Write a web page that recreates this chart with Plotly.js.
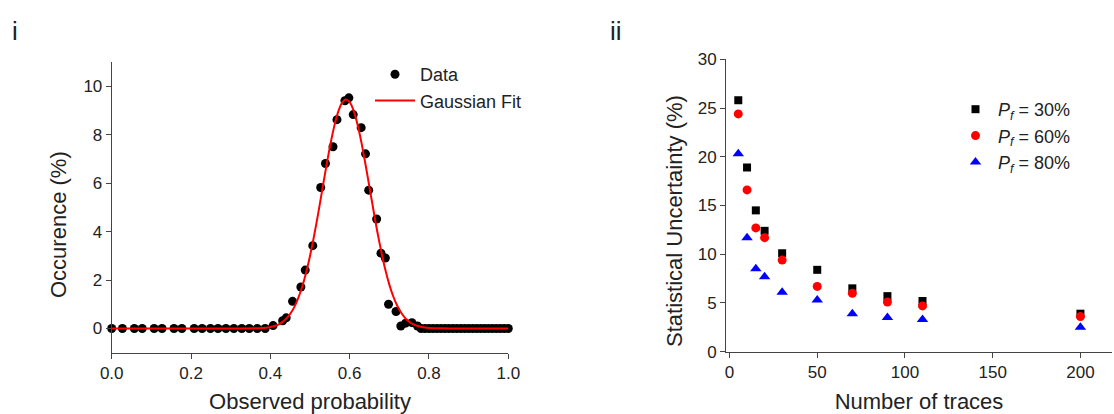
<!DOCTYPE html>
<html><head><meta charset="utf-8">
<script src="https://cdn.plot.ly/plotly-3.0.1.min.js"></script>
<style>html,body{margin:0;padding:0;background:#fff;} #chart{width:1114px;height:414px;}</style>
</head><body><div id="chart"></div>
<script>
// ---- Panel i: observed probability histogram ----
const probX = [0, 0.027, 0.057, 0.077, 0.107, 0.127, 0.157, 0.177, 0.208, 0.228, 0.249, 0.268, 0.288, 0.308, 0.328, 0.347, 0.367, 0.387,
  0.407, 0.431, 0.440, 0.456, 0.477, 0.488, 0.507, 0.527, 0.539, 0.558, 0.568, 0.588, 0.598, 0.609, 0.629, 0.640, 0.648,
  0.668, 0.679, 0.690, 0.698, 0.717, 0.729, 0.741, 0.757, 0.771,
  0.78, 0.79, 0.80, 0.81, 0.82, 0.83, 0.84, 0.85, 0.86, 0.87, 0.88, 0.89, 0.90, 0.91, 0.92, 0.93, 0.94, 0.95, 0.96, 0.97, 0.98, 0.99, 1.00];
const occurence = [0, 0, 0, 0, 0, 0, 0, 0, 0, 0, 0, 0, 0, 0, 0, 0, 0, 0,
  0.12, 0.32, 0.44, 1.12, 1.71, 2.41, 3.42, 5.82, 6.81, 7.50, 8.62, 9.40, 9.52, 8.83, 8.29, 7.21, 5.71,
  4.52, 3.11, 2.91, 1.00, 0.70, 0.10, 0.22, 0.24, 0.10,
  0, 0, 0, 0, 0, 0, 0, 0, 0, 0, 0, 0, 0, 0, 0, 0, 0, 0, 0, 0, 0, 0, 0];
const fitX = [0, 0.30, 0.36, 0.38, 0.39, 0.40, 0.41, 0.42, 0.43, 0.44, 0.45, 0.46, 0.47, 0.48, 0.49, 0.50, 0.51, 0.52, 0.53, 0.54,
  0.55, 0.56, 0.57, 0.58, 0.59, 0.60, 0.61, 0.62, 0.63, 0.64, 0.65, 0.66, 0.67, 0.68, 0.69, 0.70, 0.71, 0.72, 0.73, 0.74,
  0.75, 0.76, 0.77, 0.78, 0.79, 0.80, 0.82, 0.85, 0.90, 1.00];
const fitY = [0, 0, 0.01, 0.02, 0.03, 0.06, 0.10, 0.16, 0.26, 0.40, 0.60, 0.87, 1.24, 1.71, 2.29, 2.99, 3.80, 4.69, 5.64, 6.59,
  7.48, 8.27, 8.89, 9.29, 9.45, 9.34, 8.99, 8.41, 7.65, 6.77, 5.83, 4.88, 3.97, 3.15, 2.42, 1.81, 1.32, 0.94, 0.65, 0.43,
  0.28, 0.18, 0.11, 0.07, 0.04, 0.02, 0.01, 0, 0, 0];
const xTicksI = [0, 0.2, 0.4, 0.6, 0.8, 1.0];
const yTicksI = [0, 2, 4, 6, 8, 10];

// ---- Panel ii: statistical uncertainty ----
const numTraces = [5, 10, 15, 20, 30, 50, 70, 90, 110, 200];
const pf30 = [25.8, 18.9, 14.5, 12.4, 10.1, 8.4, 6.5, 5.7, 5.2, 3.9];
const pf60 = [24.4, 16.6, 12.7, 11.7, 9.4, 6.7, 6.0, 5.1, 4.7, 3.6];
const pf80 = [20.3, 11.7, 8.5, 7.7, 6.1, 5.3, 3.9, 3.5, 3.3, 2.5];
const seriesNames = ['<i>P</i><sub><i>f</i></sub> = 30%', '<i>P</i><sub><i>f</i></sub> = 60%', '<i>P</i><sub><i>f</i></sub> = 80%'];
const xTicksII = [0, 50, 100, 150, 200];
const yTicksII = [0, 5, 10, 15, 20, 25, 30];

const FONT = 'Liberation Sans, Arial, sans-serif';
const W = 1114, H = 414;
const px = v => v / W, py = v => 1 - v / H;

const traces = [
  {x: probX, y: occurence, type: 'scatter', mode: 'markers', name: 'Data', xaxis: 'x', yaxis: 'y',
   marker: {color: '#000', size: 9}, cliponaxis: false, legend: 'legend'},
  {x: fitX, y: fitY, type: 'scatter', mode: 'lines', name: 'Gaussian Fit', xaxis: 'x', yaxis: 'y',
   line: {color: '#ff0000', width: 2, shape: 'spline', smoothing: 0.6}, legend: 'legend'},
  {x: numTraces, y: pf30, type: 'scatter', mode: 'markers', name: seriesNames[0], xaxis: 'x2', yaxis: 'y2',
   marker: {color: '#000', size: 8, symbol: 'square'}, cliponaxis: false, legend: 'legend2'},
  {x: numTraces, y: pf60, type: 'scatter', mode: 'markers', name: seriesNames[1], xaxis: 'x2', yaxis: 'y2',
   marker: {color: '#ff0000', size: 9, symbol: 'circle'}, cliponaxis: false, legend: 'legend2'},
  {x: numTraces, y: pf80, type: 'scatter', mode: 'markers', name: seriesNames[2], xaxis: 'x2', yaxis: 'y2',
   marker: {color: '#0000ff', size: 10, symbol: 'triangle-up'}, cliponaxis: false, legend: 'legend2'}
];

const axisStyle = {
  showline: true, linecolor: '#444', linewidth: 1, ticks: 'outside', ticklen: 5, tickwidth: 1, tickcolor: '#444',
  showgrid: false, zeroline: false, tickfont: {family: FONT, size: 17, color: '#222'}, fixedrange: true
};

const layout = {
  width: W, height: H, autosize: false,
  margin: {l: 0, r: 0, t: 0, b: 0},
  paper_bgcolor: '#fff', plot_bgcolor: '#fff',
  font: {family: FONT, color: '#222'},
  xaxis: Object.assign({}, axisStyle, {domain: [px(111.7), px(508.3)], range: [0, 1], anchor: 'y',
    tickmode: 'array', tickvals: xTicksI, ticktext: xTicksI.map(v => v.toFixed(1)),
    title: {text: 'Observed probability', font: {family: FONT, size: 22, color: '#222'}, standoff: 12}}),
  yaxis: Object.assign({}, axisStyle, {domain: [py(352.7), py(62)], range: [-1, 11], anchor: 'x',
    tickmode: 'array', tickvals: yTicksI}),
  xaxis2: Object.assign({}, axisStyle, {domain: [px(726), px(1112)], range: [-2, 218], anchor: 'y2',
    tickmode: 'array', tickvals: xTicksII,
    title: {text: 'Number of traces', font: {family: FONT, size: 22, color: '#222'}, standoff: 12}}),
  yaxis2: Object.assign({}, axisStyle, {domain: [py(351.7), py(59.3)], range: [0, 30], anchor: 'x2',
    tickmode: 'array', tickvals: yTicksII}),
  showlegend: true,
  legend: {x: px(370), xanchor: 'left', y: py(56), yanchor: 'top', bgcolor: 'rgba(0,0,0,0)', itemwidth: 40,
    font: {family: FONT, size: 18, color: '#222'}, tracegroupgap: 0},
  legend2: {x: px(953), xanchor: 'left', y: py(91), yanchor: 'top', bgcolor: 'rgba(0,0,0,0)', itemwidth: 35,
    font: {family: FONT, size: 18, color: '#222'}, tracegroupgap: 0},
  annotations: [
    {text: 'i', xref: 'paper', yref: 'paper', x: px(15), y: py(31), xanchor: 'center', yanchor: 'middle', showarrow: false,
     font: {family: FONT, size: 26, color: '#222'}},
    {text: 'ii', xref: 'paper', yref: 'paper', x: px(616), y: py(31), xanchor: 'center', yanchor: 'middle', showarrow: false,
     font: {family: FONT, size: 26, color: '#222'}},
    {text: 'Occurence (%)', xref: 'paper', yref: 'paper', x: px(58), y: py(225), xanchor: 'center', yanchor: 'middle',
     textangle: -90, showarrow: false, font: {family: FONT, size: 22, color: '#222'}},
    {text: 'Statistical Uncertainty (%)', xref: 'paper', yref: 'paper', x: px(674), y: py(221), xanchor: 'center', yanchor: 'middle',
     textangle: -90, showarrow: false, font: {family: FONT, size: 22, color: '#222'}}
  ]
};

Plotly.newPlot('chart', traces, layout, {displayModeBar: false, staticPlot: true});
</script></body></html>
